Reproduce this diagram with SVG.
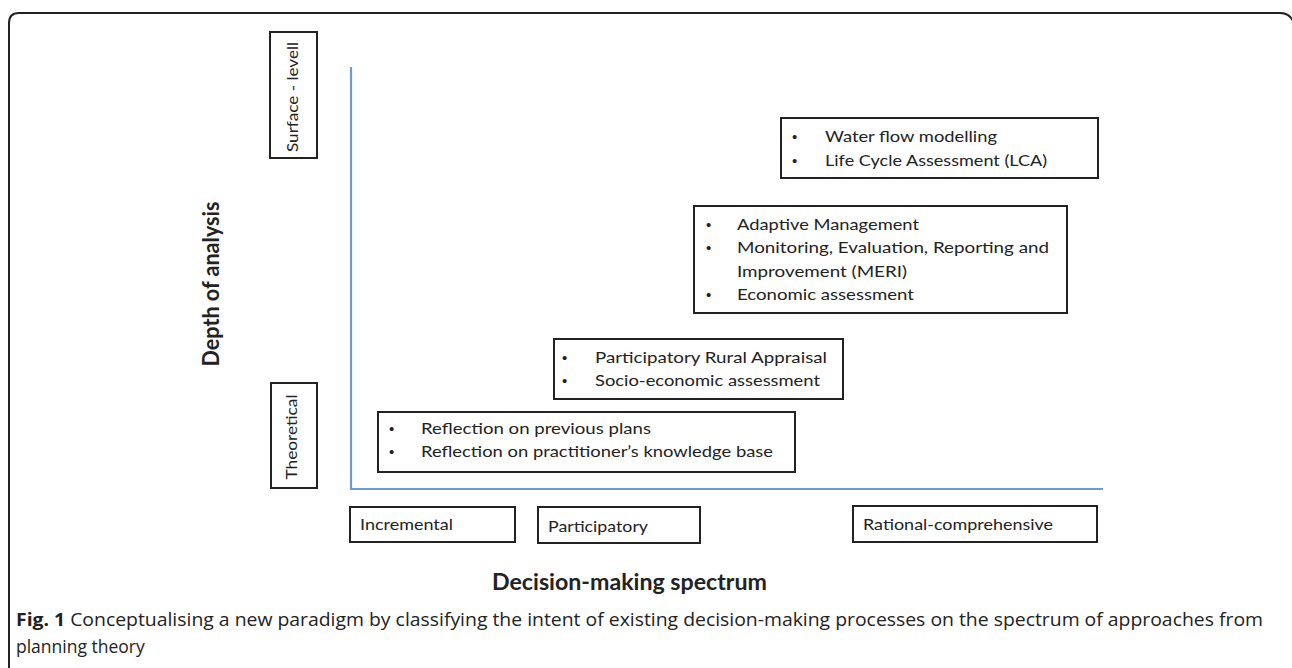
<svg xmlns="http://www.w3.org/2000/svg" width="1292" height="668" viewBox="0 0 1292 668">
<style>
.box{fill:none;stroke:#222;stroke-width:2}
.t{font-family:Lato,"Liberation Sans",Arial,sans-serif;font-size:16px;fill:#222}
.b{font-family:"Liberation Sans",Arial,sans-serif;font-size:15px;fill:#222}
.ax{stroke:#6b9ad8;stroke-width:2.2;fill:none}
.title{font-family:Lato,"Liberation Sans",sans-serif;font-weight:bold;font-size:22px;fill:#222}
.cap{font-family:"Open Sans","Liberation Sans",sans-serif;font-size:17.5px;fill:#222}
</style>
<rect width="1292" height="668" fill="#fff"/>
<path d="M9,700 V23 Q9,13 19,13 H1280 Q1290,13 1294,23" fill="none" stroke="#222" stroke-width="2"/>
<g id="connectors">
<path class="ax" d="M351,67 V489 H1103"/>
</g>
<g id="surface">
<rect class="box" x="270" y="32" width="47" height="126"/>
<text class="t" transform="translate(298,97) rotate(-90)" text-anchor="middle" textLength="110" lengthAdjust="spacingAndGlyphs">Surface - levell</text>
</g>
<g id="theoretical">
<rect class="box" x="271" y="383" width="46" height="105"/>
<text class="t" transform="translate(297,437) rotate(-90)" text-anchor="middle" textLength="85" lengthAdjust="spacingAndGlyphs">Theoretical</text>
</g>
<g id="depth">
<text class="title" transform="translate(219,284) rotate(-90)" text-anchor="middle" textLength="165" lengthAdjust="spacingAndGlyphs">Depth of analysis</text>
</g>
<g id="box4">
<rect class="box" x="781" y="118" width="317" height="60"/>
<text class="b" x="792" y="142">•</text>
<text class="t" x="825" y="142" textLength="172" lengthAdjust="spacingAndGlyphs">Water flow modelling</text>
<text class="b" x="792" y="166">•</text>
<text class="t" x="825" y="166" textLength="222" lengthAdjust="spacingAndGlyphs">Life Cycle Assessment (LCA)</text>
</g>
<g id="box3">
<rect class="box" x="694" y="206" width="373" height="107"/>
<text class="b" x="706" y="230">•</text>
<text class="t" x="737" y="230" textLength="182" lengthAdjust="spacingAndGlyphs">Adaptive Management</text>
<text class="b" x="706" y="253">•</text>
<text class="t" x="737" y="253" textLength="312" lengthAdjust="spacingAndGlyphs">Monitoring, Evaluation, Reporting and</text>
<text class="t" x="737" y="277" textLength="170" lengthAdjust="spacingAndGlyphs">Improvement (MERI)</text>
<text class="b" x="706" y="300">•</text>
<text class="t" x="737" y="300" textLength="177" lengthAdjust="spacingAndGlyphs">Economic assessment</text>
</g>
<g id="box2">
<rect class="box" x="554" y="339" width="289" height="60"/>
<text class="b" x="562" y="363">•</text>
<text class="t" x="595" y="363" textLength="232" lengthAdjust="spacingAndGlyphs">Participatory Rural Appraisal</text>
<text class="b" x="562" y="386">•</text>
<text class="t" x="595" y="386" textLength="225" lengthAdjust="spacingAndGlyphs">Socio-economic assessment</text>
</g>
<g id="box1">
<rect class="box" x="378" y="412" width="417" height="60"/>
<text class="b" x="389" y="434">•</text>
<text class="t" x="421" y="434" textLength="230" lengthAdjust="spacingAndGlyphs">Reflection on previous plans</text>
<text class="b" x="389" y="457">•</text>
<text class="t" x="421" y="457" textLength="352" lengthAdjust="spacingAndGlyphs">Reflection on practitioner’s knowledge base</text>
</g>
<g id="incremental">
<rect class="box" x="350" y="507" width="165" height="35"/>
<text class="t" x="360" y="530" textLength="93" lengthAdjust="spacingAndGlyphs">Incremental</text>
</g>
<g id="participatory">
<rect class="box" x="538" y="507" width="162" height="36"/>
<text class="t" x="548" y="532" textLength="100" lengthAdjust="spacingAndGlyphs">Participatory</text>
</g>
<g id="rational">
<rect class="box" x="853" y="506" width="244" height="36"/>
<text class="t" x="863" y="530" textLength="190" lengthAdjust="spacingAndGlyphs">Rational-comprehensive</text>
</g>
<g id="xlabel">
<text class="title" x="492" y="590" textLength="275" lengthAdjust="spacingAndGlyphs">Decision-making spectrum</text>
</g>
<g id="caption">
<text class="cap" x="16" y="626" textLength="1247" lengthAdjust="spacingAndGlyphs"><tspan font-weight="bold">Fig. 1</tspan> Conceptualising a new paradigm by classifying the intent of existing decision-making processes on the spectrum of approaches from</text>
<text class="cap" x="16" y="653">planning theory</text>
</g>
</svg>
